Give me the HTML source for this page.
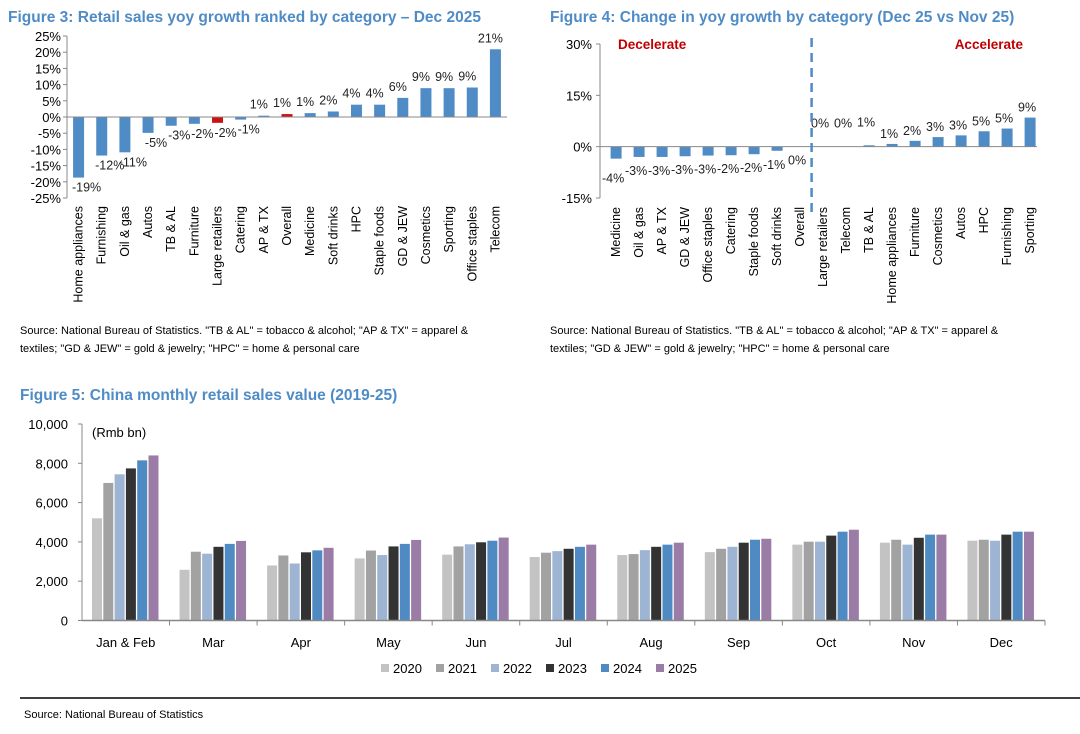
<!DOCTYPE html>
<html><head><meta charset="utf-8"><style>
body{margin:0;background:#fff;width:1080px;height:729px;overflow:hidden;font-family:"Liberation Sans",Arial,sans-serif}
svg text{font-family:"Liberation Sans",Arial,sans-serif}
</style></head><body>
<svg id="s" width="1080" height="729" viewBox="0 0 1080 729">
<text x="8" y="22" font-size="15.5" font-weight="bold" fill="#4f8cc6">Figure 3: Retail sales yoy growth ranked by category – Dec 2025</text>
<text x="550" y="22" font-size="15.5" font-weight="bold" fill="#4f8cc6">Figure 4: Change in yoy growth by category (Dec 25 vs Nov 25)</text>
<text x="20" y="334" font-size="11" fill="#000">Source: National Bureau of Statistics. "TB &amp; AL" = tobacco &amp; alcohol; "AP &amp; TX" = apparel &amp;</text>
<text x="20" y="352" font-size="11" fill="#000">textiles; "GD &amp; JEW" = gold &amp; jewelry; "HPC" = home &amp; personal care</text>
<text x="550" y="334" font-size="11" fill="#000">Source: National Bureau of Statistics. "TB &amp; AL" = tobacco &amp; alcohol; "AP &amp; TX" = apparel &amp;</text>
<text x="550" y="352" font-size="11" fill="#000">textiles; "GD &amp; JEW" = gold &amp; jewelry; "HPC" = home &amp; personal care</text>
<text x="20" y="400" font-size="15.5" font-weight="bold" fill="#4f8cc6">Figure 5: China monthly retail sales value (2019-25)</text>
<line x1="20" y1="698" x2="1080" y2="698" stroke="#000" stroke-width="1.5"/>
<text x="24" y="718" font-size="11">Source: National Bureau of Statistics</text>
<g id="f3"></g>
<g id="f4"></g>
<g id="f5"></g>
</svg>
<script>
const f3Cats=["Home appliances","Furnishing","Oil & gas","Autos","TB & AL","Furniture","Large retailers","Catering","AP & TX","Overall","Medicine","Soft drinks","HPC","Staple foods","GD & JEW","Cosmetics","Sporting","Office staples","Telecom"];
const f3Vals=[-18.7,-11.9,-10.9,-4.9,-2.7,-2.1,-1.8,-0.8,0.4,0.9,1.2,1.7,3.8,3.8,5.9,8.9,8.9,9.1,20.9];
const f3Labels=["-19%","-12%","-11%","-5%","-3%","-2%","-2%","-1%","1%","1%","1%","2%","4%","4%","6%","9%","9%","9%","21%"];
const f3Red=["Large retailers","Overall"];
const f3Ticks=[25,20,15,10,5,0,-5,-10,-15,-20,-25];

const f4Cats=["Medicine","Oil & gas","AP & TX","GD & JEW","Office staples","Catering","Staple foods","Soft drinks","Overall","Large retailers","Telecom","TB & AL","Home appliances","Furniture","Cosmetics","Autos","HPC","Furnishing","Sporting"];
const f4Vals=[-3.5,-3.0,-3.0,-2.8,-2.6,-2.5,-2.2,-1.2,0,0,0,0.4,0.8,1.7,2.8,3.3,4.5,5.3,8.5];
const f4Labels=["-4%","-3%","-3%","-3%","-3%","-2%","-2%","-1%","0%","0%","0%","1%","1%","2%","3%","3%","5%","5%","9%"];
const f4Ticks=[30,15,0,-15];

const f5Months=["Jan & Feb","Mar","Apr","May","Jun","Jul","Aug","Sep","Oct","Nov","Dec"];
const f5Years=["2020","2021","2022","2023","2024","2025"];
const f5Colors=["#c3c3c3","#a2a2a2","#9db4d2","#333333","#4f8bc2","#9b7ca6"];
const s2020=[5200,2580,2800,3160,3350,3230,3330,3480,3860,3960,4060];
const s2021=[7000,3500,3310,3560,3770,3450,3380,3650,4010,4110,4110];
const s2022=[7440,3400,2900,3330,3880,3530,3580,3750,4010,3860,4060];
const s2023=[7740,3750,3470,3770,3980,3650,3750,3960,4320,4210,4370];
const s2024=[8150,3900,3570,3900,4060,3750,3860,4110,4520,4370,4520];
const s2025=[8400,4050,3700,4100,4220,3860,3960,4160,4620,4370,4520];
const f5Series=[s2020,s2021,s2022,s2023,s2024,s2025];
const f5Ticks=[0,2000,4000,6000,8000,10000];

const NS="http://www.w3.org/2000/svg";
function mk(p,t,a,txt){const e=document.createElementNS(NS,t);for(const k in a)e.setAttribute(k,a[k]);if(txt!==undefined)e.textContent=txt;p.appendChild(e);return e;}
const BLUE="#4f8cc6",AX="#888";

// Figure 3
(function(){
const g=document.getElementById('f3');
const x0=67,x1=507,yTop=36,yBot=198;
const y=v=>yTop+(25-v)*(yBot-yTop)/50;
const step=(x1-x0)/f3Cats.length;
const cx=i=>x0+step*(i+0.5);
mk(g,'line',{x1:x0,y1:yTop,x2:x0,y2:yBot,stroke:AX});
f3Ticks.forEach(t=>{
 const tl=mk(g,'text',{x:x0-6,y:y(t)+5,'font-size':13,'text-anchor':'end'},t+'%');
 
 
 mk(g,'line',{x1:x0-4,y1:y(t),x2:x0,y2:y(t),stroke:AX});
});
f3Cats.forEach((c,i)=>{
 const v=f3Vals[i];
 const r=mk(g,'rect',{x:cx(i)-5.5,y:Math.min(y(v),y(0)),width:11,height:Math.abs(y(v)-y(0)),fill:f3Red.includes(c)?"#cc1111":BLUE});
 
 
 const ly=v>=0?y(v)-7:y(v)+14;
 const lx=v>=0?cx(i)-5:cx(i)+8;
 const t=mk(g,'text',{x:lx,y:ly,'font-size':12.5,'text-anchor':'middle',fill:'#222'},f3Labels[i]);
 
 
 const cl=mk(g,'text',{x:0,y:0,'font-size':12.5,'text-anchor':'end',transform:`translate(${cx(i)+4},${206}) rotate(-90)`},c);
 
 
});
mk(g,'line',{x1:x0,y1:y(0),x2:x1,y2:y(0),stroke:AX});
})();

// Figure 4
(function(){
const g=document.getElementById('f4');
const x0=600,x1=1037,yTop=44,yBot=198;
const y=v=>yTop+(30-v)*(yBot-yTop)/45;
const step=(x1-x0)/f4Cats.length;
const cx=i=>x0+step*(i+0.7);
mk(g,'line',{x1:x0,y1:yTop,x2:x0,y2:yBot,stroke:AX});
f4Ticks.forEach(t=>{
 const tl=mk(g,'text',{x:x0-8,y:y(t)+5,'font-size':13,'text-anchor':'end'},t+'%');
 
 
 mk(g,'line',{x1:x0-4,y1:y(t),x2:x0,y2:y(t),stroke:AX});
});
f4Cats.forEach((c,i)=>{
 const v=f4Vals[i];
 const r=mk(g,'rect',{x:cx(i)-5.5,y:Math.min(y(v),y(0)),width:11,height:Math.abs(y(v)-y(0)),fill:BLUE});
 
 
 const neg=i<=8;
 const ly=neg?y(Math.min(v,0))+(i==0?24:18):y(Math.max(v,0))-6-(v<=0.5?13:0);
 const t=mk(g,'text',{x:cx(i)-3,y:ly,'font-size':12.5,'text-anchor':'middle',fill:'#222'},f4Labels[i]);
 
 
 const cl=mk(g,'text',{x:0,y:0,'font-size':12.5,'text-anchor':'end',transform:`translate(${cx(i)+4},${207}) rotate(-90)`},c);
 
 
});
mk(g,'line',{x1:x0,y1:y(0),x2:x1,y2:y(0),stroke:AX});
const dx=(cx(8)+cx(9))/2;
const dl=mk(g,'line',{x1:dx,y1:38,x2:dx,y2:212,stroke:BLUE,'stroke-width':2.5,'stroke-dasharray':'9,6'});


const d=mk(g,'text',{x:618,y:49,'font-size':13.5,'font-weight':'bold',fill:'#c00000'},'Decelerate');


const a=mk(g,'text',{x:1023,y:49,'font-size':13.5,'font-weight':'bold',fill:'#c00000','text-anchor':'end'},'Accelerate');


})();

// Figure 5
(function(){
const g=document.getElementById('f5');
const x0=82,x1=1045,y0=620.5,yMax=424;
const y=v=>y0-(v/10000)*(y0-yMax);
const gw=(x1-x0)/f5Months.length;
mk(g,'line',{x1:x0,y1:yMax,x2:x0,y2:y0,stroke:AX});
f5Ticks.forEach(t=>{
 const tl=mk(g,'text',{x:x0-14,y:y(t)+5,'font-size':13,'text-anchor':'end'},t.toLocaleString('en-US'));
 
 
 mk(g,'line',{x1:x0-4,y1:y(t),x2:x0,y2:y(t),stroke:AX});
});
const u=mk(g,'text',{x:92,y:437,'font-size':13},'(Rmb bn)');


f5Months.forEach((m,i)=>{
 const gx=x0+gw*i;
 f5Series.forEach((s,k)=>{
  const r=mk(g,'rect',{x:gx+10+k*11.3,y:y(s[i]),width:10,height:y0-y(s[i]),fill:f5Colors[k]});
  
  
 });
 mk(g,'line',{x1:gx+gw,y1:y0,x2:gx+gw,y2:y0+5,stroke:AX});
 const t=mk(g,'text',{x:gx+gw/2,y:647,'font-size':13,'text-anchor':'middle'},m);
 
 
});
mk(g,'line',{x1:x0,y1:y0,x2:x1,y2:y0,stroke:AX,'stroke-width':1.5});
f5Years.forEach((yr,k)=>{
 const lx=381+k*55;
 const sq=mk(g,'rect',{x:lx,y:664,width:8,height:8,fill:f5Colors[k]});
 
 
 const t=mk(g,'text',{x:lx+12,y:673,'font-size':13},yr);
 
 
});
})();
</script>
</body></html>
